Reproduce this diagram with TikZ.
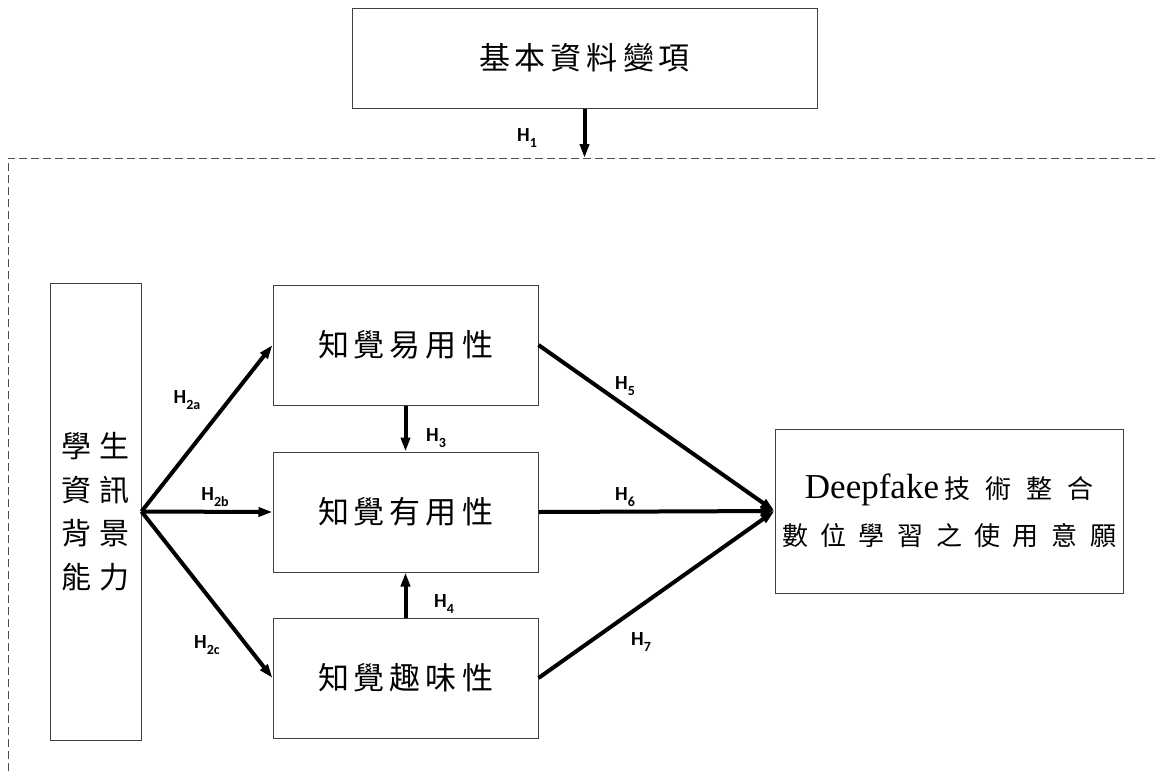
\documentclass[tikz,border=0pt]{standalone}
\usepackage{fontspec}
\setmainfont{Liberation Serif}
\newfontfamily\cjk{Noto Sans CJK TC}
\newfontfamily\hfont{Carlito}
\usetikzlibrary{arrows.meta}
\makeatletter
\newcommand\spacedtext[2]{\def\st@gap{\hspace{#1}}\let\st@sep\relax\@tfor\st@tok:=#2\do{\st@sep\st@tok\let\st@sep\st@gap}}
\makeatother
\newcommand\hsub[1]{H\raisebox{-0.28em}{\fontsize{14}{14}\selectfont #1}}
\begin{document}
\begin{tikzpicture}[x=1pt,y=-1pt,
  box/.style={draw=black!75, line width=1pt, inner sep=0pt, fill=white},
  big/.style={font=\cjk\fontsize{31}{31}\selectfont},
  arr/.style={line width=4pt, -{Triangle[length=14pt,width=9pt]}},
  hl/.style={font=\hfont\bfseries\fontsize{20}{20}\selectfont, inner sep=0pt},
  frame/.style={draw=black!70, line width=0.9pt, dash pattern=on 8pt off 4pt}]
\useasboundingbox (0,0) rectangle (1158,774);
\fill[white] (0,0) rectangle (1158,774);
% dashed frame
\draw[frame] (1155,158) -- (8,158) -- (8,774);
% nodes
\node[box, big, minimum width=465pt, minimum height=100pt] (top) at (584.5,58) {\spacedtext{5pt}{基本資料變項}};
\coordinate (d1) at (584.5,158);
\node[box, minimum width=91pt, minimum height=457pt, align=center,
      font=\cjk\fontsize{30}{43.5}\selectfont] (lbox) at (95.5,511.5)
      {學\hspace{8pt}生\\資\hspace{8pt}訊\\背\hspace{8pt}景\\能\hspace{8pt}力};
\node[box, big, minimum width=265pt, minimum height=120pt] (b1) at (405.5,345) {\spacedtext{5pt}{知覺易用性}};
\node[box, big, minimum width=265pt, minimum height=120pt] (b2) at (405.5,512) {\spacedtext{5pt}{知覺有用性}};
\node[box, big, minimum width=265pt, minimum height=120pt] (b3) at (405.5,678) {\spacedtext{5pt}{知覺趣味性}};
\node[box, minimum width=348pt, minimum height=164pt, align=center,
      font=\cjk\fontsize{26}{47}\selectfont] (rbox) at (949,511)
      {{\rmfamily\fontsize{35}{47}\selectfont Deepfake}\hspace{5pt}\spacedtext{15pt}{技術整合}\\\spacedtext{12.5pt}{數位學習之使用意願}};
% arrows
\draw[arr] (top.south) -- (d1);
\draw[arr] (lbox.east) -- (b1.west);
\draw[arr] (lbox.east) -- (b2.west);
\draw[arr] (lbox.east) -- (b3.west);
\draw[arr] (b1.south) -- (b2.north);
\draw[arr] (b3.north) -- (b2.south);
\draw[arr] (b1.east) -- (rbox.west);
\draw[arr] (b2.east) -- (rbox.west);
\draw[arr] (b3.east) -- (rbox.west);
% labels
\node[hl] (h1) at (527,138) {\hsub{1}};
\node[hl] (h2a) at (187,400) {\hsub{2a}};
\node[hl] (h2b) at (215,497) {\hsub{2b}};
\node[hl] (h2c) at (207,645) {\hsub{2c}};
\node[hl] (h3) at (436,438) {\hsub{3}};
\node[hl] (h4) at (444,604) {\hsub{4}};
\node[hl] (h5) at (625,386) {\hsub{5}};
\node[hl] (h6) at (625,497) {\hsub{6}};
\node[hl] (h7) at (641,642) {\hsub{7}};
\end{tikzpicture}
\end{document}
